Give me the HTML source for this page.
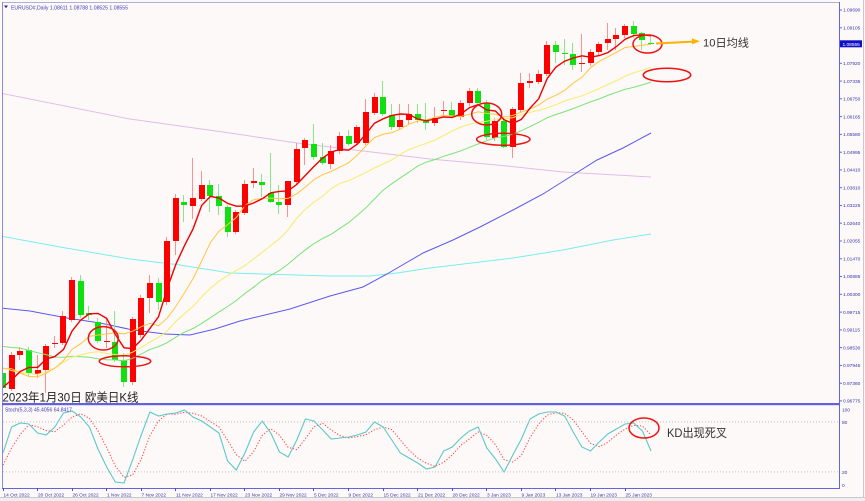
<!DOCTYPE html>
<html><head><meta charset="utf-8">
<style>
html,body{margin:0;padding:0;background:#fdf9f8;overflow:hidden;}
svg{display:block;}
text{font-family:"Liberation Sans","Noto Sans CJK SC",sans-serif;}
</style></head>
<body>
<svg id="c" width="865" height="501" viewBox="0 0 865 501" xmlns="http://www.w3.org/2000/svg">
<defs>
<clipPath id="cm"><rect x="3" y="3" width="836" height="400"/></clipPath>
<clipPath id="cs"><rect x="3" y="406" width="836" height="82"/></clipPath>
</defs>
<rect width="865" height="501" fill="#fdf9f8"/>
<rect x="0" y="497.5" width="865" height="4" fill="#efefef"/>
<line x1="0" y1="497.5" x2="865" y2="497.5" stroke="#c8c8d0" stroke-width="1"/>
<line x1="863.5" y1="0" x2="863.5" y2="498" stroke="#c8c8d0" stroke-width="1"/>

<!-- long moving averages -->
<g clip-path="url(#cm)" fill="none" stroke-width="1">
<polyline stroke="#e2bce8" points="0,93 130,119 230,133 297,143 330,147 430,159 497,165 563,172 651,177"/>
<polyline stroke="#78eeee" points="0,236 60,247 130,259 180,265 230,273 330,276 370,276 397,273 430,268 480,262 513,258 563,250 613,240 651,234"/>
<polyline stroke="#5a5aee" points="0,308 30,311 67,318 100,323 133,330 165,334 190,335 215,329 240,321 290,309 330,296 363,287 387,274 423,253 453,240 480,227 513,210 543,194 570,177 597,160 623,148 651,133"/>
</g>
<g id="main" clip-path="url(#cm)"></g>
<g id="stoch" clip-path="url(#cs)"></g>

<!-- frame -->
<line x1="2" y1="2.5" x2="840" y2="2.5" stroke="#b0b0dc" stroke-width="1"/>
<line x1="2.5" y1="2" x2="2.5" y2="489" stroke="#8c8cdc" stroke-width="1"/>
<line x1="839.5" y1="2" x2="839.5" y2="489" stroke="#6464e0" stroke-width="1"/>
<rect x="2" y="403" width="838" height="2.2" fill="#6060e0"/>
<line x1="2" y1="488.5" x2="840" y2="488.5" stroke="#6464e0" stroke-width="1"/>

<!-- header -->
<polygon points="4,5.5 8,5.5 6,8.2" fill="#2a2aa0"/>
<text x="11" y="9.3" font-size="5.2" fill="#3a3ab8" textLength="117" lengthAdjust="spacingAndGlyphs">EURUSD#,Daily  1.08611 1.08788 1.08525 1.08555</text>
<text x="5" y="411.5" font-size="5" fill="#3a3ab8" textLength="67" lengthAdjust="spacingAndGlyphs">Stoch(5,3,3) 45.4056 64.8417</text>

<!-- right axis -->
<g font-size="4.8" fill="#3535b0" stroke="none">
<text x="843" y="11.7">1.09690</text>
<text x="843" y="29.5">1.09105</text>
<text x="843" y="65">1.07920</text>
<text x="843" y="82.8">1.07335</text>
<text x="843" y="100.5">1.06750</text>
<text x="843" y="118.3">1.06165</text>
<text x="843" y="136.1">1.05580</text>
<text x="843" y="153.9">1.04995</text>
<text x="843" y="171.6">1.04410</text>
<text x="843" y="189.4">1.03810</text>
<text x="843" y="207.2">1.03225</text>
<text x="843" y="224.9">1.02640</text>
<text x="843" y="242.7">1.02055</text>
<text x="843" y="260.5">1.01470</text>
<text x="843" y="278.2">1.00885</text>
<text x="843" y="296">1.00300</text>
<text x="843" y="313.8">0.99715</text>
<text x="843" y="331.6">0.99115</text>
<text x="843" y="349.3">0.98530</text>
<text x="843" y="367.1">0.97945</text>
<text x="843" y="384.9">0.97360</text>
<text x="843" y="402.6">0.96775</text>
<text x="842" y="411.3">100</text>
<text x="842" y="423.8">80</text>
<text x="842" y="473.8">20</text>
<text x="842" y="487">0</text>
</g>
<g stroke="#6464e0" stroke-width="1">
<line x1="839" y1="10" x2="842" y2="10"/><line x1="839" y1="27.8" x2="842" y2="27.8"/>
<line x1="839" y1="63.3" x2="842" y2="63.3"/><line x1="839" y1="81.1" x2="842" y2="81.1"/>
<line x1="839" y1="98.8" x2="842" y2="98.8"/><line x1="839" y1="116.6" x2="842" y2="116.6"/>
<line x1="839" y1="134.4" x2="842" y2="134.4"/><line x1="839" y1="152.2" x2="842" y2="152.2"/>
<line x1="839" y1="169.9" x2="842" y2="169.9"/><line x1="839" y1="187.7" x2="842" y2="187.7"/>
<line x1="839" y1="205.5" x2="842" y2="205.5"/><line x1="839" y1="223.2" x2="842" y2="223.2"/>
<line x1="839" y1="241" x2="842" y2="241"/><line x1="839" y1="258.8" x2="842" y2="258.8"/>
<line x1="839" y1="276.5" x2="842" y2="276.5"/><line x1="839" y1="294.3" x2="842" y2="294.3"/>
<line x1="839" y1="312.1" x2="842" y2="312.1"/><line x1="839" y1="329.9" x2="842" y2="329.9"/>
<line x1="839" y1="347.6" x2="842" y2="347.6"/><line x1="839" y1="365.4" x2="842" y2="365.4"/>
<line x1="839" y1="383.2" x2="842" y2="383.2"/><line x1="839" y1="400.9" x2="842" y2="400.9"/>
</g>
<rect x="840" y="40.3" width="22" height="7" fill="#1010c8"/>
<text x="842.5" y="45.9" font-size="4.8" fill="#ffffff">1.08555</text>

<!-- date axis -->
<g stroke="#5050c0" stroke-width="1">
<line x1="3.5" y1="488" x2="3.5" y2="491"/><line x1="37.5" y1="488" x2="37.5" y2="491"/>
<line x1="72.5" y1="488" x2="72.5" y2="491"/><line x1="106.5" y1="488" x2="106.5" y2="491"/>
<line x1="141.5" y1="488" x2="141.5" y2="491"/><line x1="175.5" y1="488" x2="175.5" y2="491"/>
<line x1="210.5" y1="488" x2="210.5" y2="491"/><line x1="244.5" y1="488" x2="244.5" y2="491"/>
<line x1="279.5" y1="488" x2="279.5" y2="491"/><line x1="313.5" y1="488" x2="313.5" y2="491"/>
<line x1="348.5" y1="488" x2="348.5" y2="491"/><line x1="383.5" y1="488" x2="383.5" y2="491"/>
<line x1="417.5" y1="488" x2="417.5" y2="491"/><line x1="452.5" y1="488" x2="452.5" y2="491"/>
<line x1="486.5" y1="488" x2="486.5" y2="491"/><line x1="521.5" y1="488" x2="521.5" y2="491"/>
<line x1="555.5" y1="488" x2="555.5" y2="491"/><line x1="590.5" y1="488" x2="590.5" y2="491"/>
<line x1="625.5" y1="488" x2="625.5" y2="491"/>
</g>
<g font-size="4.8" fill="#3535a5">
<text x="3.5" y="496.3">14 Oct 2022</text>
<text x="38" y="496.3">20 Oct 2022</text>
<text x="72.5" y="496.3">26 Oct 2022</text>
<text x="107" y="496.3">1 Nov 2022</text>
<text x="141.5" y="496.3">7 Nov 2022</text>
<text x="176" y="496.3">11 Nov 2022</text>
<text x="210.5" y="496.3">17 Nov 2022</text>
<text x="245" y="496.3">23 Nov 2022</text>
<text x="279.5" y="496.3">29 Nov 2022</text>
<text x="314" y="496.3">5 Dec 2022</text>
<text x="348.5" y="496.3">9 Dec 2022</text>
<text x="383.5" y="496.3">15 Dec 2022</text>
<text x="418" y="496.3">21 Dec 2022</text>
<text x="452.5" y="496.3">28 Dec 2022</text>
<text x="487" y="496.3">3 Jan 2023</text>
<text x="521.5" y="496.3">9 Jan 2023</text>
<text x="556" y="496.3">13 Jan 2023</text>
<text x="590.5" y="496.3">19 Jan 2023</text>
<text x="625.5" y="496.3">25 Jan 2023</text>
</g>

<!-- stoch levels -->
<g stroke="#c4c4c4" stroke-width="1" stroke-dasharray="1,2">
<line x1="3" y1="421.9" x2="839" y2="421.9"/>
<line x1="3" y1="471.9" x2="839" y2="471.9"/>
</g>

<!-- annotations -->
<g fill="none" stroke="#ee1111" stroke-width="1.5">
<ellipse cx="103.3" cy="338.3" rx="15" ry="11.7"/>
<ellipse cx="125" cy="361.3" rx="25.7" ry="5.5"/>
<ellipse cx="486.7" cy="114" rx="15" ry="11"/>
<ellipse cx="503.3" cy="139.3" rx="26.7" ry="6"/>
<ellipse cx="647.5" cy="44" rx="14.5" ry="9"/>
<ellipse cx="667" cy="75" rx="23.7" ry="6.7"/>
<ellipse cx="644" cy="428" rx="15" ry="10"/>
</g>
<line x1="656" y1="43.5" x2="693" y2="41.6" stroke="#ffb000" stroke-width="2"/>
<polygon points="692,38.4 700,41.3 692,44.4" fill="#ffb000"/>
<text x="703" y="46.6" font-size="11" fill="#333333" textLength="46" lengthAdjust="spacingAndGlyphs">10日均线</text>
<text x="667" y="436.8" font-size="12" fill="#333333" textLength="60" lengthAdjust="spacingAndGlyphs">KD出现死叉</text>
<text x="2.5" y="401.6" font-size="12" fill="#222222" textLength="136" lengthAdjust="spacingAndGlyphs">2023年1月30日 欧美日K线</text>
</svg>
<script>
(function(){
const NS="http://www.w3.org/2000/svg";
function el(tag,attrs,parent){const e=document.createElementNS(NS,tag);for(const k in attrs)e.setAttribute(k,attrs[k]);parent.appendChild(e);return e;}
const C=[['G',373,388,370,392],['R',355,389,352,391],['R',351,355,347,360],['G',350,373,347,377],['R',370,374,355,378],
['R',346,370,344,393],['R',343,344,336,348],['R',316,343,311,345],['R',280,320,277,322],['G',281,315,275,318],
['G',313,315,306,320],['G',322,341,318,343],['R',341,342,318,348],['G',342,360,311,362],['G',360,382,353,387],
['R',319,382,317,385],['R',298,335,295,338],['R',283,298,275,313],['G',283,302,278,310],['R',241,302,237,305],
['R',198,241,194,255],['G',202,205,195,222],['R',198,206,158,219],['R',185,199,171,201],['G',185,196,180,212],
['G',196,206,184,215],['G',207,232,205,237],['R',212,232,210,234],['R',184,213,180,215],['R',181,183,168,188],
['G',182,185,174,197],['G',193,202,153,203],['G',202,205,185,214],['R',181,205,181,217],['R',149,182,143,184],
['R',140,148,138,165],['G',144,157,124,160],['G',157,163,143,165],['R',151,164,145,169],['R',136,151,132,154],
['G',136,144,130,146],['R',127,143,125,145],['R',112,143,99,145],['R',97,113,93,115],['G',97,114,81,116],
['G',115,127,104,130],['R',120,127,104,130],['R',114,120,104,124],['G',114,120,104,123],['G',121,123,103,130],
['R',118,123,107,126],['R',110,111,101,117],['G',110,116,102,118],['R',103,117,100,120],['R',91,103,88,106],
['G',91,103,88,106],['G',103,137,100,140],['R',121,138,118,141],['G',121,147,117,148],['R',109,147,107,158],
['R',83,110,73,112],['R',81,83,73,88],['R',74,82,70,84],['R',45,74,41,76],['G',45,52,41,63],
['G',53,54,39,65],['G',54,65,43,70],['R',63,64,34,72],['R',52,63,49,66],['R',44,52,42,55],
['R',39,43,23,50],['R',35,39,28,50],['R',26,35,24,38],['G',26,34,21,38],['G',33,40,32,50],['G',43,44,37,45]];
const PRE=[320.3,317.2,324.5,332.7,301.5,303.3,290.6,266.7,310.6,310,303.6,299.1,295.4,312.1,352.7,352.4,397.8,422.3,426.5,383.2,359,363.3,356,307,338.1,366.9,382,393.2,392.3,393.5,370.2];
const X=i=>3+8.64*i;
const main=document.getElementById('main');
C.forEach((c,i)=>{
  const xi=Math.round(X(i));const up=c[0]==='R';
  el('rect',{x:xi-1,y:c[3],width:1,height:c[4]-c[3],fill:up?'#ff9090':'#88e888'},main);
  const h=Math.max(c[2]-c[1],1);
  el('rect',{x:xi-3,y:c[1],width:6,height:h,fill:up?'#ff0000':'#10e010'},main);
});
const closes=C.map(c=>c[0]==='R'?c[1]:c[2]);
const all=PRE.concat(closes);
function sma(n){const pts=[];for(let i=0;i<closes.length;i++){const g=i+PRE.length;let s=0;for(let k=g-n+1;k<=g;k++)s+=all[k];pts.push(X(i).toFixed(1)+','+(s/n).toFixed(1));}return pts.join(' ');}
el('polyline',{points:sma(30),fill:'none',stroke:'#78e478','stroke-width':1},main);
el('polyline',{points:sma(20),fill:'none',stroke:'#f6ec6a','stroke-width':1},main);
el('polyline',{points:sma(10),fill:'none',stroke:'#ffc640','stroke-width':1},main);
el('polyline',{points:sma(5),fill:'none',stroke:'#ee0000','stroke-width':1.4},main);
const K=[453,427,423,424,433,435,427,413,411,417,427,449,467,482,483,460,435,412,416,414,413,410,417,421,427,433,461,470,453,432,421,433,452,457,440,419,421,430,439,438,437,435,432,422,427,440,453,458,463,469,467,451,447,438,431,427,448,459,472,455,439,419,414,412,412,416,432,447,451,442,434,429,424,423,431,451];
const D=K.map((v,i)=>i<2?(i===0?465:448):(K[i]+K[i-1]+K[i-2])/3);
const st=document.getElementById('stoch');
el('polyline',{points:D.map((v,i)=>X(i).toFixed(1)+','+v.toFixed(1)).join(' '),fill:'none',stroke:'#ff3a3a','stroke-width':1,'stroke-dasharray':'1.2,1.8'},st);
el('polyline',{points:K.map((v,i)=>X(i).toFixed(1)+','+v).join(' '),fill:'none',stroke:'#5cc8c8','stroke-width':1.1},st);
})();
</script>
</body></html>
